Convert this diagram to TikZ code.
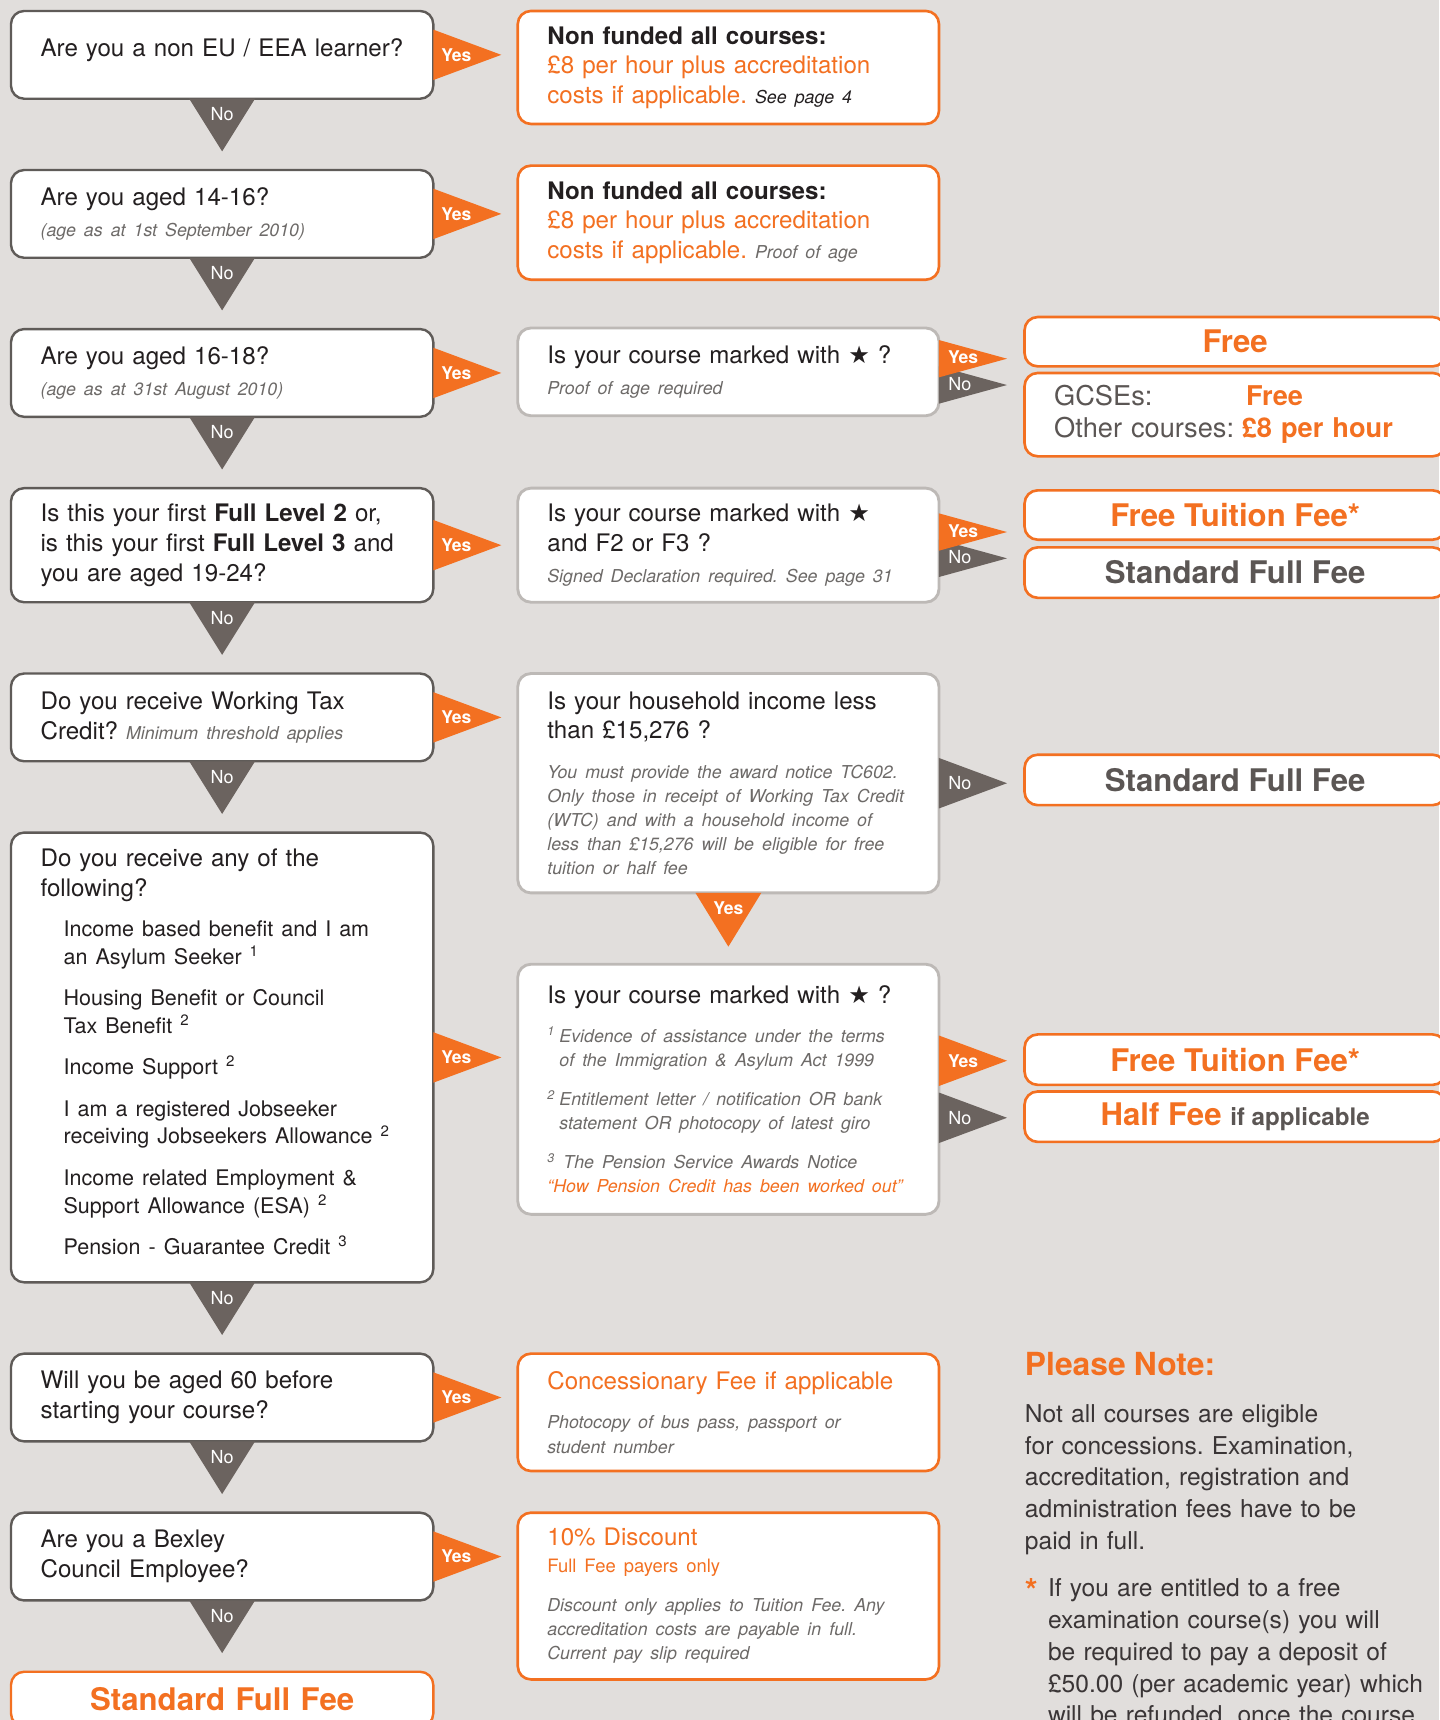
\documentclass[tikz,border=0pt]{standalone}
\usepackage{fontspec}
\setmainfont{TeX Gyre Heros}
\newfontfamily\symfont{DejaVu Sans}
\usetikzlibrary{positioning}
\frenchspacing

\definecolor{pagebg}{HTML}{E1DEDC}
\definecolor{feeorange}{HTML}{F37021}
\definecolor{arrowgray}{HTML}{6B635F}
\definecolor{qline}{HTML}{5F5B58}
\definecolor{mline}{HTML}{BDB9B6}
\definecolor{inkdark}{HTML}{231F20}
\definecolor{subgray}{HTML}{6D6A68}
\definecolor{feegray}{HTML}{5B5654}
\definecolor{notegray}{HTML}{3A3536}

\newcommand{\qfont}{\fontsize{11}{13.5}\selectfont}
\newcommand{\subfont}{\fontsize{8.1}{11}\selectfont\itshape\color{subgray}}
\newcommand{\itemfont}{\fontsize{9.8}{12.5}\selectfont}
\newcommand{\feefont}{\fontsize{14.2}{16}\selectfont\bfseries}
\newcommand{\notefont}{\fontsize{11.2}{14.5}\selectfont}
\newcommand{\mstar}{{\symfont ★}}

\begin{document}
\begin{tikzpicture}[
    x = 0.5pt, y = -0.5pt,
    node distance = 32.5pt,
    qbox/.style = {draw=qline, line width=1.1pt, fill=white, rounded corners=6pt, outer sep=0pt, inner xsep=13.5pt, inner ysep=0pt, minimum width=192.5pt, text width=165.5pt, align=left, font=\qfont, text=inkdark},
    mbox/.style = {qbox, draw=mline, line width=1.3pt, minimum width=192pt, text width=165pt},
    obox/.style = {mbox, draw=feeorange, line width=1.2pt},
    fee/.style = {draw=feeorange, line width=1.2pt, fill=white, rounded corners=6pt, outer sep=0pt, minimum width=192pt, anchor=north west, align=center, font=\feefont, text=feeorange},
    yestri/.style = {fill=feeorange},
    notri/.style = {fill=arrowgray},
    yeslbl/.style = {text=white, font=\fontsize{8}{9}\selectfont\bfseries},
    nolbl/.style = {text=white, font=\fontsize{8.2}{9}\selectfont}
]

    \fill[pagebg] (0,0) rectangle (1312,1568);
    \useasboundingbox (0,0) rectangle (1312,1568);

    % Questions
    \node [qbox, anchor=north west, minimum height=40pt, text depth=7pt] (q1) at (10,10) {Are you a non EU / EEA learner?};
    \node [qbox, below=of q1, minimum height=40pt] (q2) {Are you aged 14-16?\\[1pt]{\subfont (age as at 1st September 2010)}};
    \node [qbox, below=of q2, minimum height=40pt] (q3) {Are you aged 16-18?\\[1pt]{\subfont (age as at 31st August 2010)}};
    \node [qbox, below=of q3, minimum height=52pt] (q4) {Is this your first \textbf{Full Level 2} or,\\ is this your first \textbf{Full Level 3} and\\ you are aged 19-24?};
    \node [qbox, below=of q4, minimum height=40pt] (q5) {Do you receive Working Tax\\ Credit? {\subfont Minimum threshold applies}};
    \node [qbox, below=of q5, minimum height=205pt] (q6) {Do you receive any of the\\ following?\par
        \vspace{6pt}
        {\itemfont\leftskip=10.5pt
        Income based benefit and I am\\ an Asylum Seeker \textsuperscript{1}\\[6.5pt]
        Housing Benefit or Council\\ Tax Benefit \textsuperscript{2}\\[6.5pt]
        Income Support \textsuperscript{2}\\[6.5pt]
        I am a registered Jobseeker\\ receiving Jobseekers Allowance \textsuperscript{2}\\[6.5pt]
        Income related Employment \&\\ Support Allowance (ESA) \textsuperscript{2}\\[6.5pt]
        Pension - Guarantee Credit \textsuperscript{3}\par}
        \vspace{5pt}};
    \node [qbox, below=of q6, minimum height=40pt] (q7) {Will you be aged 60 before\\ starting your course?};
    \node [qbox, below=of q7, minimum height=40pt] (q8) {Are you a Bexley\\ Council Employee?};
    \node [qbox, below=of q8, draw=feeorange, minimum height=25pt, align=center, font=\feefont, text=feeorange] (fullfee) {Standard Full Fee};

    % Middle column
    \node [obox, right=38.5pt of q1.north east, anchor=north west, minimum height=51.5pt] (m1) {{\bfseries Non funded all courses:}\\ {\color{feeorange}£8 per hour plus accreditation}\\ {\color{feeorange}costs if applicable.} {\fontsize{8.1}{11}\selectfont\itshape See page 4}};
    \node [obox, right=38.5pt of q2.north east, anchor=north west, yshift=2pt, minimum height=52pt] (m2) {{\bfseries Non funded all courses:}\\ {\color{feeorange}£8 per hour plus accreditation}\\ {\color{feeorange}costs if applicable.} {\subfont Proof of age}};
    \node [mbox, right=38.5pt of q3.north east, anchor=north west, yshift=0.5pt, minimum height=40pt] (m3) {Is your course marked with \mstar{} ?\\[0.5pt]{\subfont Proof of age required}};
    \node [mbox, right=38.5pt of q4.north east, anchor=north west, minimum height=52pt] (m4) {Is your course marked with \mstar\\ and F2 or F3 ?\\[0.5pt]{\subfont Signed Declaration required. See page 31}};
    \node [mbox, right=38.5pt of q5.north east, anchor=north west, minimum height=100pt] (m5) {Is your household income less\\ than £15,276 ?\par
        \vspace{7pt}
        {\subfont You must provide the award notice TC602.\\ Only those in receipt of Working Tax Credit\\ (WTC) and with a household income of\\ less than £15,276 will be eligible for free\\ tuition or half fee\par}};
    \node [mbox, below=of m5, minimum height=114pt] (m6) {Is your course marked with \mstar{} ?\par
        \vspace{6.5pt}
        {\subfont \makebox[5.5pt][l]{\textsuperscript{1}}Evidence of assistance under the terms\\ \hspace*{5.5pt}of the Immigration \& Asylum Act 1999\\[7pt]
        \makebox[5.5pt][l]{\textsuperscript{2}}Entitlement letter / notification OR bank\\ \hspace*{5.5pt}statement OR photocopy of latest giro\\[6.5pt]
        \textsuperscript{3} The Pension Service Awards Notice\\ {\color{feeorange}“How Pension Credit has been worked out”}\par}};
    \node [obox, right=38.5pt of q7.north east, anchor=north west, minimum height=53.5pt] (m7) {{\color{feeorange}Concessionary Fee if applicable}\par
        \vspace{7pt}
        {\subfont Photocopy of bus pass, passport or\\ student number\par}};
    \node [obox, right=38.5pt of q8.north east, anchor=north west, minimum height=76pt] (m8) {{\color{feeorange}10\% Discount}\par
        \vspace{1pt}
        {\fontsize{8.4}{11}\selectfont\color{feeorange}Full Fee payers only\par}
        \vspace{7pt}
        {\subfont Discount only applies to Tuition Fee. Any\\ accreditation costs are payable in full.\\ Current pay slip required\par}};

    % Fees
    \node [fee, minimum height=22.5pt] (free) at (934,289) {Free};
    \node [fee, below=3pt of free, minimum height=38pt, align=left, text width=165pt, inner xsep=13.5pt, font=\fontsize{12.4}{14.5}\selectfont, text=feegray] (gcse) {\makebox[87.5pt][l]{GCSEs:}{\bfseries\color{feeorange}Free}\\ \makebox[85.5pt][l]{Other courses:}{\bfseries\color{feeorange}£8 per hour}};
    \node [fee, minimum height=22.5pt] (tuition1) at (934,447) {Free Tuition Fee*};
    \node [fee, below=3.5pt of tuition1, minimum height=23pt, text=feegray] (standard1) {Standard Full Fee};
    \node [fee, minimum height=23pt, text=feegray] (standard2) at (934,688) {Standard Full Fee};
    \node [fee, minimum height=23pt] (tuition2) at (934,943) {Free Tuition Fee*};
    \node [fee, below=3pt of tuition2, minimum height=23pt] (halffee) {Half Fee {\fontsize{11}{13}\selectfont\color{feegray} if applicable}};

    % Note
    \node [anchor=north west, inner sep=0pt, text width=200pt, align=left, font=\notefont, text=notegray] (note) at (934,1232) {{\fontsize{14.5}{17}\selectfont\bfseries\color{feeorange}Please Note:\par}
        \vspace{7pt}
        Not all courses are eligible\\ for concessions. Examination,\\ accreditation, registration and\\ administration fees have to be\\ paid in full.\par
        \vspace{7pt}
        \makebox[10.5pt][l]{\raisebox{-2.5pt}{\fontsize{15}{14.5}\selectfont\bfseries\color{feeorange}*}}If you are entitled to a free\\ \hspace*{10.5pt}examination course(s) you will\\ \hspace*{10.5pt}be required to pay a deposit of\\ \hspace*{10.5pt}£50.00 (per academic year) which\\ \hspace*{10.5pt}will be refunded, once the course\par};

    % Edges
    \foreach \q in {q1,q2,q3,q4,q5,q6,q7,q8} {
        \fill [yestri] (\q.east) ++(0,-23) -- ++(62,23) -- ++(-62,23) -- cycle;
        \node [yeslbl] at ([xshift=10.5pt]\q.east) {Yes};
        \fill [notri] (\q.south) ++(-30,0) -- ++(30,48) -- ++(30,-48) -- cycle;
        \node [nolbl] at ([yshift=-7pt]\q.south) {No};
    }
    \foreach \m in {m3,m4} {
        \fill [notri] (\m.east) ++(0,-5) -- ++(62,17) -- ++(-62,17) -- cycle;
        \fill [yestri] (\m.east) ++(0,-29) -- ++(62,17) -- ++(-62,17) -- cycle;
        \node [yeslbl] at ([xshift=11pt,yshift=6.5pt]\m.east) {Yes};
        \node [nolbl] at ([xshift=9.5pt,yshift=-5.5pt]\m.east) {No};
    }
    \fill [notri] (m5.east) ++(0,-23) -- ++(62,23) -- ++(-62,23) -- cycle;
    \node [nolbl] at ([xshift=9.5pt]m5.east) {No};
    \fill [yestri] (m5.south) ++(-30,0) -- ++(30,49) -- ++(30,-49) -- cycle;
    \node [yeslbl] at ([yshift=-7pt]m5.south) {Yes};
    \fill [yestri] (m6.east) ++(0,-49) -- ++(62,23) -- ++(-62,23) -- cycle;
    \node [yeslbl] at ([xshift=11pt,yshift=13pt]m6.east) {Yes};
    \fill [notri] (m6.east) ++(0,3) -- ++(62,23) -- ++(-62,23) -- cycle;
    \node [nolbl] at ([xshift=9.5pt,yshift=-13pt]m6.east) {No};

\end{tikzpicture}
\end{document}
